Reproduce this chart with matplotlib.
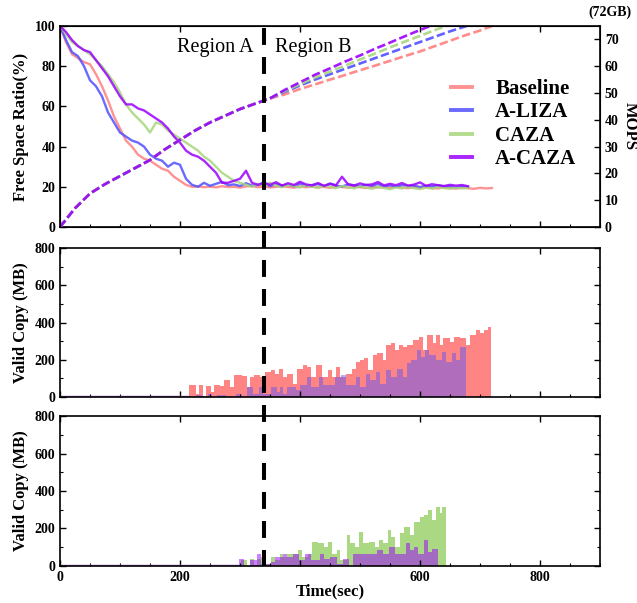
import numpy as np
import matplotlib.pyplot as plt
from matplotlib.lines import Line2D
from matplotlib.transforms import blended_transform_factory

plt.rcParams['font.family'] = ['Liberation Serif', 'DejaVu Serif']
plt.rcParams['font.weight'] = 'bold'
plt.rcParams['axes.labelweight'] = 'bold'

names = ["Baseline", "A-LIZA", "CAZA", "A-CAZA"]
colors = ["#FF7F7F", "#5050FF", "#A6D67C", "#9B00FF"]

# free space ratio (%), one sample every 10 s
free_step = 10
free_baseline = [100, 92, 86, 84, 82, 81, 76, 70, 63, 55, 49, 43, 40, 36, 34, 33, 31, 29, 28, 25, 23, 21, 20,
                 20.2, 19.8, 20.1, 19.7, 20.3, 19.9, 20.0, 19.6, 20.2, 20.4,
                 19.8, 20.1, 19.7, 20.0, 20.3, 19.9, 19.6, 20.2, 19.8, 20.1,
                 19.7, 20.0, 19.5, 20.2, 19.9, 19.6, 20.1, 19.8, 19.4, 20.0,
                 19.7, 19.9, 19.5, 20.1, 19.6, 19.3, 19.9, 19.5, 19.8, 19.4,
                 19.2, 19.7, 19.5, 19.1, 19.6, 19.3, 19.0, 19.5, 19.2, 19.4]
free_aliza = [100, 93, 87, 85, 80, 73, 70, 65, 57, 52, 47, 45, 43, 42, 40, 36, 34, 33, 30, 32, 31, 24, 21, 20,
              22, 20.5, 21.5, 22.5, 20.8, 21.2, 20.4, 21.8, 20.6, 21.0,
              22.0, 20.3, 21.4, 20.7, 21.1, 20.2, 21.6, 20.5, 20.9, 21.3,
              20.4, 21.7, 20.6, 20.1, 21.2, 20.8, 20.3, 21.0, 20.5, 21.4,
              20.2, 20.7, 20.0, 20.9, 20.4, 20.6, 19.9, 20.5, 20.2, 20.8,
              20.1, 20.4, 19.8, 20.3, 20.0]
free_caza = [100, 96, 92, 90, 88, 86, 83, 80, 76, 72, 67, 61, 57, 54, 51, 47, 52, 51, 48, 46, 44, 42, 40, 38,
             35, 33, 30, 27, 25, 23, 22, 21, 20,
             21.5, 20.2, 22.0, 20.6, 19.8, 21.0, 20.4, 19.6, 20.8, 20.1,
             19.5, 20.6, 20.0, 19.3, 20.4, 19.8, 19.2, 20.2, 19.6, 19.0,
             19.9, 19.4, 18.8, 19.7, 19.2, 19.9, 19.3, 18.9, 19.6, 19.1,
             19.8, 19.4, 19.0, 19.6, 19.2, 19.5]
free_acaza = [100, 97, 93, 90, 88, 87, 83, 79, 75, 70, 65, 61, 61, 59, 58, 56, 54, 52, 49, 45, 42, 38, 36, 35,
              33, 30, 27, 22, 22, 23, 24, 28, 22, 21, 22,
              21.0, 22.3, 20.6, 21.8, 20.9, 22.5, 21.2, 20.7, 21.9, 20.5,
              21.4, 20.8, 25.0, 21.3, 20.6, 21.7, 20.9, 21.2, 22.4, 20.7,
              21.5, 20.8, 21.9, 20.6, 21.1, 22.2, 20.5, 21.3, 20.8, 20.4,
              21.0, 20.6, 20.9, 20.3]

# MOPS (right axis)
mops_t_common = [0, 25, 50, 75, 100, 125, 150, 175, 200, 225, 250, 275, 300, 325, 350]
mops_common = [0, 7, 12.5, 16, 19, 22, 25, 29, 32.5, 36, 39, 41.5, 44, 46, 48]
mops_t_baseline = [375, 400, 425, 450, 475, 500, 525, 550, 575, 600, 625, 650, 675, 700, 720]
mops_baseline = [49.5, 51.5, 53.2, 55, 56.7, 58.5, 60.2, 62, 63.8, 65.5, 67.5, 69.5, 71.5, 73.3, 75]
mops_t_aliza = [375, 400, 425, 450, 475, 500, 525, 550, 575, 600, 625, 650, 678]
mops_aliza = [50.5, 52.8, 55, 57, 59, 61, 63, 65, 67, 69, 71, 73, 75]
mops_t_caza = [375, 400, 425, 450, 475, 500, 525, 550, 575, 600, 625, 644]
mops_caza = [50.8, 53.3, 55.8, 58, 60.2, 62.5, 64.7, 67, 69.2, 71.3, 73.5, 75]
mops_t_acaza = [375, 400, 425, 450, 475, 500, 525, 550, 575, 600, 617]
mops_acaza = [51.2, 54, 56.8, 59.2, 61.7, 64, 66.5, 68.8, 71.2, 73.5, 75]

# valid copy (MB): segment edges (sec) and heights
vc_edges_baseline = [0, 215, 226, 232, 239, 243, 251, 256, 266, 273, 283, 290, 304, 312, 317, 323, 334, 341, 351,
                     358, 365, 372, 378, 389, 395, 405, 412, 419, 426, 436, 446, 453, 460, 466, 477, 487, 494,
                     500, 507, 514, 521, 528, 538, 544, 551, 558, 565, 572, 578, 589, 599, 605, 612, 622, 627,
                     633, 639, 650, 656, 666, 677, 683, 694, 700, 707, 714, 719]
vc_baseline = [0, 63, 18, 63, 5, 58, 27, 63, 58, 90, 54, 117, 111, 54, 108, 117, 108, 135, 144,
               126, 153, 108, 126, 72, 153, 171, 162, 108, 171, 108, 144, 108, 162, 108, 126, 153,
               189, 198, 207, 144, 225, 234, 198, 279, 288, 252, 279, 270, 279, 306, 324, 252, 333, 290,
               333, 279, 315, 297, 324, 315, 279, 333, 360, 342, 360, 378]
vc_edges_aliza = [0, 226, 236, 246, 253, 262, 276, 294, 304, 311, 321, 332, 338, 351, 361, 366, 372, 378, 393,
                  400, 412, 419, 432, 439, 459, 469, 476, 493, 500, 510, 517, 527, 534, 544, 551, 561, 571,
                  578, 585, 595, 602, 609, 615, 626, 636, 643, 653, 660, 666, 677]
vc_aliza = [0, 9, 0, 18, 0, 9, 0, 18, 0, 54, 18, 54, 18, 54, 27, 54, 18, 54,
            36, 63, 108, 54, 108, 63, 108, 117, 63, 108, 54, 126, 90, 135, 72, 144, 108, 153,
            108, 180, 198, 252, 216, 252, 225, 198, 243, 189, 234, 198, 270]
vc_edges_caza = [0, 301, 311, 317, 323, 328, 335, 342, 352, 359, 366, 372, 379, 396, 403, 413, 420, 430, 440,
                 447, 454, 461, 467, 478, 484, 491, 498, 505, 515, 525, 532, 539, 546, 552, 559, 566, 573,
                 583, 590, 600, 607, 614, 620, 627, 634, 637, 644]
vc_caza = [0, 30, 5, 39, 5, 39, 48, 13, 48, 30, 63, 48, 63, 84, 48, 66, 129, 120,
           102, 129, 66, 84, 30, 165, 120, 102, 183, 120, 129, 102, 138, 120, 192, 156, 102, 174,
           209, 165, 236, 263, 272, 299, 245, 317, 281, 317]
vc_edges_acaza = [0, 298, 307, 317, 328, 335, 352, 359, 372, 379, 389, 399, 409, 419, 433, 440, 450, 461, 471,
                  481, 488, 529, 539, 549, 559, 569, 576, 583, 590, 596, 607, 613, 620, 630]
vc_acaza = [0, 39, 0, 30, 66, 13, 21, 48, 63, 48, 63, 30, 63, 30, 63, 39, 48, 13,
            39, 0, 63, 84, 63, 102, 63, 66, 120, 84, 102, 66, 138, 75, 93]

region_line_t = 340
x_ticks = [0, 200, 400, 600, 800]
x_tick_labels = ["0", "200", "", "600", "800"]

fig = plt.figure(figsize=(6.37, 6.03), dpi=100)
ax1 = fig.add_axes([0.0942, 0.6235, 0.8477, 0.3334])
ax2 = fig.add_axes([0.0942, 0.3416, 0.8477, 0.2471])
ax3 = fig.add_axes([0.0942, 0.0614, 0.8477, 0.2487])
ax1r = ax1.twinx()

free_series = [free_baseline, free_aliza, free_caza, free_acaza]
handles = []
for vals, c, n in zip(free_series, colors, names):
    t = np.arange(len(vals)) * free_step
    h, = ax1.plot(t, vals, color=c, lw=1.7, alpha=0.85, label=n)
    handles.append(h)

mops_series = [(mops_t_baseline, mops_baseline), (mops_t_aliza, mops_aliza),
               (mops_t_caza, mops_caza), (mops_t_acaza, mops_acaza)]
for (tt, vv), c in zip(mops_series, colors):
    ax1r.plot(mops_t_common + tt, mops_common + vv, color=c, lw=1.9, alpha=0.9, dashes=(3.2, 1.3))

ax1.set_ylim(0, 100)
ax1r.set_ylim(0, 75)
ax1.set_yticks([0, 20, 40, 60, 80, 100])
ax1r.set_yticks(range(0, 80, 10))
ax1.set_ylabel("Free Space Ratio(%)", fontsize=12, labelpad=4)
ax1r.set_ylabel("MOPS", fontsize=12, rotation=270, va="center", ha="center")
ax1r.yaxis.set_label_coords(1.055, 0.5)
ax1r.text(1.018, 1.07, "(72GB)", transform=ax1.transAxes, ha="center", va="center", fontsize=10)
ax1.text(258, 89.5, "Region A", ha="center", va="center", fontsize=14.5, fontweight="normal")
ax1.text(422, 89.5, "Region B", ha="center", va="center", fontsize=14.5, fontweight="normal")
ax1r.legend(handles=handles, loc="upper left", bbox_to_anchor=(0.725, 0.737), frameon=False,
            fontsize=15, handlelength=1.0, handletextpad=1.1, labelspacing=0.17,
            borderpad=0, borderaxespad=0)
for lh in ax1r.get_legend().get_lines():
    lh.set_linewidth(2.8)

# valid copy panels
ax2.stairs(vc_baseline, vc_edges_baseline, fill=True, color=colors[0], alpha=0.95, lw=0)
ax2.stairs(vc_aliza, vc_edges_aliza, fill=True, color=colors[1], alpha=0.45, lw=0)
ax2.hlines(0, vc_edges_baseline[0], vc_edges_baseline[1], color="#B070C8", lw=2.5)
ax3.stairs(vc_caza, vc_edges_caza, fill=True, color=colors[2], alpha=0.95, lw=0)
ax3.stairs(vc_acaza, vc_edges_acaza, fill=True, color=colors[3], alpha=0.5, lw=0)
ax3.hlines(0, vc_edges_acaza[0], vc_edges_acaza[1], color="#B070C8", lw=2.5)

for ax in (ax2, ax3):
    ax.set_ylim(0, 800)
    ax.set_yticks(range(0, 801, 200))
    ax.set_yticks(range(0, 801, 100), minor=True)
    ax.set_ylabel("Valid Copy (MB)", fontsize=12, labelpad=4)

for ax in (ax1, ax2, ax3):
    ax.set_xlim(0, 900)
    ax.set_xticks(x_ticks)
    ax.set_xticks(range(0, 901, 50), minor=True)
    ax.tick_params(axis="both", which="both", direction="in", labelsize=10)
    ax.tick_params(which="major", length=4, width=1)
    ax.tick_params(which="minor", length=2, width=0.8)
    ax.tick_params(axis="x", top=True)
    for s in ax.spines.values():
        s.set_linewidth(1.2)
ax2.tick_params(axis="y", right=True, which="both")
ax3.tick_params(axis="y", right=True, which="both")
ax1.tick_params(axis="y", which="minor", left=False)
ax1r.tick_params(axis="y", direction="in", labelsize=10, length=4, width=1)
ax1.tick_params(labelbottom=False)
ax2.tick_params(labelbottom=False)
ax3.set_xticklabels(x_tick_labels)
ax3.set_xlabel("Time(sec)", fontsize=12, labelpad=0)

for ax in (ax1, ax1r, ax2, ax3):
    for lab in ax.get_xticklabels() + ax.get_yticklabels():
        lab.set_fontweight("bold")

trans = blended_transform_factory(ax1.transData, fig.transFigure)
fig.add_artist(Line2D([region_line_t, region_line_t], [0.954, 0.061], transform=trans,
                      color="black", lw=2.9, dashes=(4.2, 3)))

fig.savefig("out.png", dpi=100)
